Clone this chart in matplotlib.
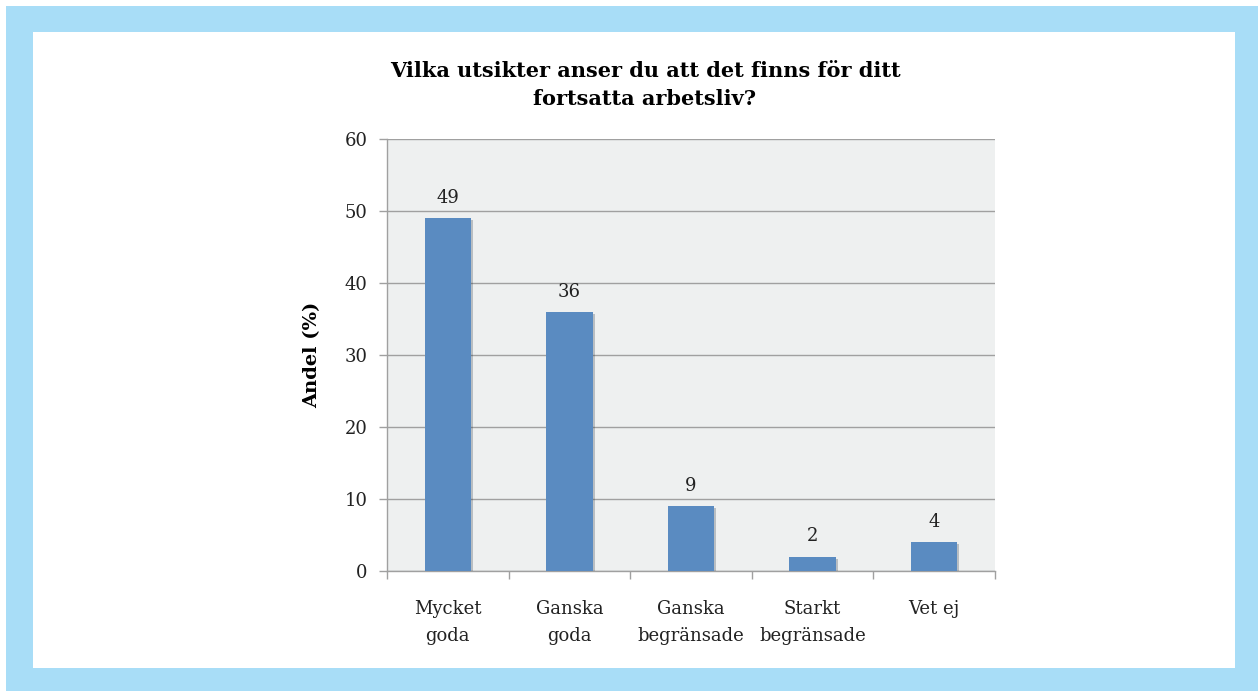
import matplotlib.pyplot as plt
from matplotlib.patches import Rectangle
import matplotlib.patheffects as pe

# --- Data ---
categories = ["Mycket\ngoda", "Ganska\ngoda", "Ganska\nbegränsade", "Starkt\nbegränsade", "Vet ej"]
values = [49, 36, 9, 2, 4]
yticks = [0, 10, 20, 30, 40, 50, 60]

# --- Style ---
plt.rcParams.update({
    "font.family": "DejaVu Serif",
    "font.size": 13,
})

W, H = 1258, 691
fig = plt.figure(figsize=(W / 100, H / 100), dpi=100)
fig.patch.set_facecolor("white")

# light blue frame with white inner area
frame_blue = "#a8ddf7"
fig.patches.append(Rectangle((6 / W, 0), 1 - 6 / W, 1 - 6 / H, transform=fig.transFigure,
                             facecolor=frame_blue, edgecolor="none", zorder=-10))
fig.patches.append(Rectangle((33 / W, 1 - 668 / H), (1235 - 33) / W, (668 - 32) / H,
                             transform=fig.transFigure, facecolor="white",
                             edgecolor="none", zorder=-9))

ax = fig.add_axes([387 / W, 1 - 571 / H, 608 / W, 432 / H])
ax.set_zorder(1)
ax.set_facecolor("#eef0f0")

x = list(range(len(categories)))
bars = ax.bar(x, values, width=0.38, color="#5a8bc1", zorder=3,
              path_effects=[pe.SimplePatchShadow(offset=(1.5, -1.5), alpha=0.25),
                            pe.Normal()])

for xi, v in zip(x, values):
    ax.annotate(str(v), (xi, v), xytext=(0, 8), textcoords="offset points",
                ha="center", va="bottom", fontsize=13, color="#222222")

ax.set_xlim(-0.5, len(categories) - 0.5)
ax.set_ylim(0, 60)
ax.set_yticks(yticks)
ax.grid(axis="y", color="#a0a0a0", linewidth=1, zorder=1)
ax.set_axisbelow(True)

ax.set_xticks(x)
ax.set_xticklabels(categories, linespacing=1.6)
ax.set_xticks([i - 0.5 for i in range(len(categories) + 1)], minor=True)
ax.tick_params(axis="x", which="major", length=0, pad=21, labelsize=13, labelcolor="#222222")
ax.tick_params(axis="x", which="minor", length=6, color="#a0a0a0", width=1)
ax.tick_params(axis="y", length=6, color="#a0a0a0", width=1, pad=8,
               labelsize=13, labelcolor="#222222")

for side in ["top", "right"]:
    ax.spines[side].set_visible(False)
for side in ["left", "bottom"]:
    ax.spines[side].set_color("#a0a0a0")
    ax.spines[side].set_linewidth(1)

ax.set_ylabel("Andel (%)", fontsize=14, fontweight="bold")
ax.yaxis.set_label_coords(-0.108, 0.5)

fig.text(645 / W, 1 - 85 / H,
         "Vilka utsikter anser du att det finns för ditt\nfortsatta arbetsliv?",
         ha="center", va="center", fontsize=15, fontweight="bold", linespacing=1.5)

fig.savefig("out.png", dpi=100)
